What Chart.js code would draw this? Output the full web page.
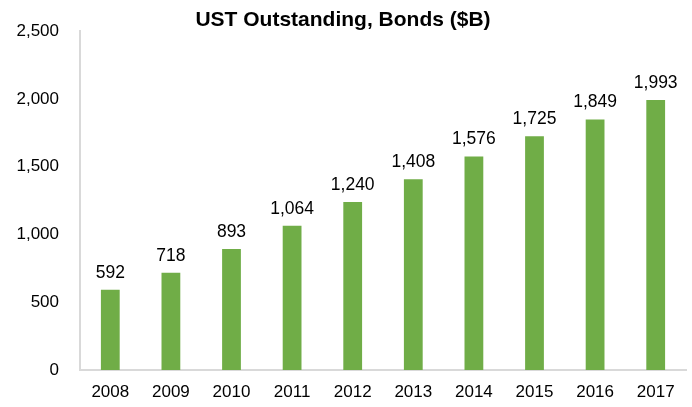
<!DOCTYPE html>
<html lang="en">
<head>
    <meta charset="UTF-8">
    <script src="https://cdn.jsdelivr.net/npm/chart.js"></script>
    <title>UST Outstanding, Bonds</title>
    <style>
        body { margin: 0; background: #fff; }
        #wrap { width: 692px; height: 407px; }
    </style>
</head>
<body>
    <div id="wrap"><canvas id="bondChart"></canvas></div>

    <script>
        // chart data
        const years = ['2008', '2009', '2010', '2011', '2012', '2013', '2014', '2015', '2016', '2017'];
        const bonds = [592, 718, 893, 1064, 1240, 1408, 1576, 1725, 1849, 1993];

        const fontFamily = '"Liberation Sans", Arial, sans-serif';

        // draws the value above each bar
        const barLabels = {
            id: 'barLabels',
            afterDatasetsDraw(chart) {
                const ctx = chart.ctx;
                const meta = chart.getDatasetMeta(0);
                ctx.save();
                ctx.font = '17.5px ' + fontFamily;
                ctx.fillStyle = '#000';
                ctx.textAlign = 'center';
                ctx.textBaseline = 'alphabetic';
                meta.data.forEach((bar, i) => {
                    ctx.fillText(bonds[i].toLocaleString('en-US'), bar.x, bar.y - 12);
                });
                ctx.restore();
            }
        };

        const ctx = document.getElementById('bondChart').getContext('2d');
        new Chart(ctx, {
            type: 'bar',
            data: {
                labels: years,
                datasets: [{
                    data: bonds,
                    backgroundColor: '#70AD47',
                    categoryPercentage: 1.0,
                    barPercentage: 0.31
                }]
            },
            options: {
                responsive: true,
                maintainAspectRatio: false,
                animation: false,
                layout: { padding: { left: 0, right: 6, top: 0, bottom: 0 } },
                plugins: {
                    legend: { display: false },
                    tooltip: { enabled: false },
                    title: {
                        display: true,
                        text: 'UST Outstanding, Bonds ($B)',
                        color: '#000',
                        font: { family: fontFamily, size: 21, weight: 'bold', lineHeight: 1.0 },
                        padding: { top: 8, bottom: 0 }
                    }
                },
                scales: {
                    x: {
                        grid: { display: false, drawTicks: false },
                        border: { color: '#d9d9d9', width: 2 },
                        ticks: {
                            color: '#000',
                            padding: 12,
                            maxRotation: 0,
                            font: { family: fontFamily, size: 17 }
                        },
                        afterFit: scale => { scale.height = 37; }
                    },
                    y: {
                        min: 0,
                        max: 2500,
                        grid: { display: false, drawTicks: false },
                        border: { color: '#d9d9d9', width: 2 },
                        ticks: {
                            stepSize: 500,
                            color: '#000',
                            padding: 21,
                            font: { family: fontFamily, size: 17 },
                            callback: v => v.toLocaleString('en-US')
                        },
                        afterFit: scale => { scale.width = 80; }
                    }
                }
            },
            plugins: [barLabels]
        });
    </script>
</body>
</html>
